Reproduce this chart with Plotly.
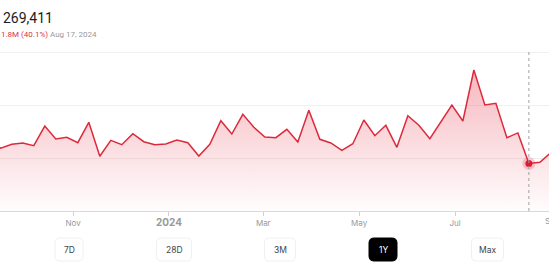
import pandas as pd
import plotly.graph_objects as go

# ---- data ----
week_start = "2023-09-09"
n_weeks = 52
values = [
    400000, 356000, 377600, 384900, 369600, 481100, 407600, 417200,
    386600, 502100, 309600, 400200, 375300, 437500, 392300, 375300, 379200,
    401900, 386600, 311300, 377600,
    511100, 435800, 547400, 473800,
    418900, 414900, 462500, 390600, 570000,
    405800, 384900, 343600, 380900,
    515100, 426200, 485100, 360600,
    539400, 485100, 409200, 505500, 600000,
    509400, 798100, 600000, 609600,
    414900, 442000, 269411, 275700, 331000,
]
dates = pd.date_range(week_start, periods=n_weeks, freq="7D")
assert len(values) == len(dates)

selected_date = pd.Timestamp("2024-08-17")
selected_value = 269411
header_value = "269,411"
header_change = "1.8M (40.1%)"
header_date = "Aug 17, 2024"

tick_dates = ["2023-11-01", "2024-01-01", "2024-03-01", "2024-05-01", "2024-07-01"]
tick_labels = ["Nov", "<b><span style='font-size:10px'>2024</span></b>", "Mar", "May", "Jul"]
extra_tick_date = "2024-09-01"
extra_tick_label = "Sep"
grid_vals = [0, 300000, 600000, 900000]
buttons = ["7D", "28D", "3M", "1Y", "Max"]
active_button = "1Y"

x_start = pd.Timestamp("2023-09-15 12:00")
x_end = pd.Timestamp("2024-08-29 19:12")

# ---- layout geometry ----
W, H = 549, 275
M_T, M_B = 47, 64
plot_h = H - M_T - M_B
top_grid_px = 52
y_max = grid_vals[-1] * (H - M_B - M_T) / (H - M_B - top_grid_px)

RED = "#dc2a3c"

fig = go.Figure()

fig.add_trace(go.Scatter(
    x=dates, y=values, mode="lines",
    line=dict(color=RED, width=1.5),
    fill="tozeroy",
    fillgradient=dict(
        type="vertical",
        colorscale=[[0, "rgba(228,45,65,0.01)"], [1, "rgba(228,45,65,0.34)"]],
        start=0, stop=800000,
    ),
    hoverinfo="skip", showlegend=False,
))

# selected point (halo + dot)
fig.add_trace(go.Scatter(
    x=[selected_date], y=[selected_value], mode="markers",
    marker=dict(size=13, color="rgba(228,40,60,0.22)"),
    hoverinfo="skip", showlegend=False,
))
fig.add_trace(go.Scatter(
    x=[selected_date], y=[selected_value], mode="markers",
    marker=dict(size=7, color="#e3172f"),
    hoverinfo="skip", showlegend=False,
))

# dashed vertical line at selected date
fig.add_shape(type="line", xref="x", yref="y",
              x0=selected_date, x1=selected_date, y0=0, y1=grid_vals[-1],
              line=dict(color="#a0a0a0", width=1, dash="3px,3px"), layer="above")

def frac_x(d):
    d = pd.Timestamp(d)
    return (d - x_start) / (x_end - x_start)

# partially visible "Sep" tick label beyond range
fig.add_annotation(xref="paper", yref="paper", x=frac_x(extra_tick_date), y=0,
                   yshift=-10, text=extra_tick_label, showarrow=False,
                   xanchor="center", yanchor="middle",
                   font=dict(family="Inter, Roboto, sans-serif", size=8, color="#999999"))

def py(p):
    return (H - M_B - p) / plot_h

# header texts
fig.add_annotation(xref="paper", yref="paper", x=0.0, y=py(18.5),
                   text=header_value, showarrow=False, xanchor="left", yanchor="middle",
                   xshift=1,
                   font=dict(family="Roboto, sans-serif", size=14, color="#1c1c1e"))
fig.add_annotation(xref="paper", yref="paper", x=0.0, y=py(35),
                   text=header_change, showarrow=False, xanchor="left", yanchor="middle",
                   xshift=-1,
                   font=dict(family="Roboto, sans-serif", size=8, color="#d6344a"))
fig.add_annotation(xref="paper", yref="paper", x=48 / W, y=py(35),
                   text=header_date, showarrow=False, xanchor="left", yanchor="middle",
                   font=dict(family="Roboto, sans-serif", size=8, color="#9a9a9a"))

# range buttons
btn_centers = [69, 174, 280, 383, 487.5]
btn_widths = [28, 35, 31, 28, 32]
btn_top, btn_bot = 238, 261

def rounded_rect(x0, x1, y0, y1, r):
    X = lambda v: v / W
    pts = [
        f"M {X(x0 + r)},{py(y0)}",
        f"L {X(x1 - r)},{py(y0)}",
        f"Q {X(x1)},{py(y0)} {X(x1)},{py(y0 + r)}",
        f"L {X(x1)},{py(y1 - r)}",
        f"Q {X(x1)},{py(y1)} {X(x1 - r)},{py(y1)}",
        f"L {X(x0 + r)},{py(y1)}",
        f"Q {X(x0)},{py(y1)} {X(x0)},{py(y1 - r)}",
        f"L {X(x0)},{py(y0 + r)}",
        f"Q {X(x0)},{py(y0)} {X(x0 + r)},{py(y0)}",
        "Z",
    ]
    return " ".join(pts)

for label, cx, bw in zip(buttons, btn_centers, btn_widths):
    active = label == active_button
    fig.add_shape(type="path", xref="paper", yref="paper",
                  path=rounded_rect(cx - bw / 2, cx + bw / 2, btn_top, btn_bot, 5),
                  fillcolor="#000000" if active else "#ffffff",
                  line=dict(color="#000000" if active else "#f0f0f0", width=1),
                  layer="above")
    fig.add_annotation(xref="paper", yref="paper", x=cx / W, y=py((btn_top + btn_bot) / 2),
                       text=label, showarrow=False, xanchor="center", yanchor="middle",
                       font=dict(family="Inter, Roboto, sans-serif", size=8.5,
                                 color="#ffffff" if active else "#444444"))

fig.update_layout(
    width=W, height=H,
    margin=dict(l=0, r=0, t=M_T, b=M_B),
    paper_bgcolor="white", plot_bgcolor="white",
    xaxis=dict(
        range=[x_start, x_end], tickvals=pd.to_datetime(tick_dates), ticktext=tick_labels,
        showgrid=False, zeroline=False, showline=True, linecolor="#d9d9d9", linewidth=1,
        ticks="outside", ticklen=4, tickcolor="#d0d0d0", tickwidth=1,
        tickfont=dict(family="Inter, Roboto, sans-serif", size=8, color="#999999"),
    ),
    yaxis=dict(
        range=[0, y_max], tickvals=grid_vals, showticklabels=False,
        showgrid=True, gridcolor="#f0f0f0", gridwidth=1, zeroline=False, showline=False,
        fixedrange=True,
    ),
)

fig.write_html("out.html")
